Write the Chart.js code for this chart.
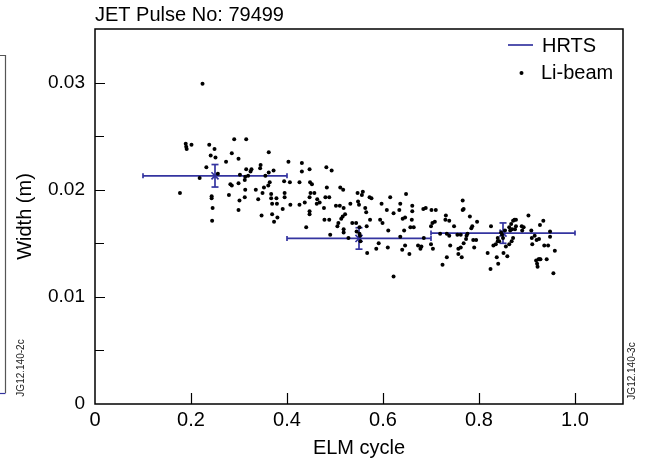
<!DOCTYPE html>
<html>
<head>
<meta charset="utf-8">
<script src="https://cdn.jsdelivr.net/npm/chart.js@4.4.1/dist/chart.umd.min.js"></script>
<style>
    html, body { margin: 0; padding: 0; background: #fff; }
    #wrap { width: 645px; height: 464px; }
</style>
</head>
<body>
<div id="wrap"><canvas id="elm-chart" width="645" height="464"></canvas></div>
<script>
// Li-beam widths
const liBeamX = [
    0.224, 0.189, 0.190, 0.191, 0.201, 0.238, 0.249, 0.241, 0.251, 0.290,
    0.315, 0.285, 0.299, 0.273, 0.232, 0.218, 0.177, 0.256, 0.243, 0.243,
    0.245, 0.244, 0.279, 0.282, 0.285, 0.299, 0.302, 0.312, 0.313, 0.315,
    0.326, 0.324, 0.319, 0.313, 0.312, 0.301, 0.299, 0.335, 0.340, 0.345,
    0.344, 0.352, 0.349, 0.355, 0.362, 0.362, 0.372, 0.364, 0.361, 0.367,
    0.367, 0.369, 0.378, 0.379, 0.347, 0.369, 0.380, 0.373, 0.391, 0.395,
    0.395, 0.394, 0.403, 0.406, 0.407, 0.431, 0.431, 0.447, 0.426, 0.426,
    0.437, 0.448, 0.452, 0.449, 0.457, 0.447, 0.463, 0.468, 0.462, 0.447,
    0.447, 0.440, 0.482, 0.493, 0.483, 0.480, 0.488, 0.477, 0.478, 0.488,
    0.490, 0.502, 0.510, 0.511, 0.517, 0.518, 0.532, 0.521, 0.516, 0.513,
    0.507, 0.505, 0.518, 0.518, 0.528, 0.536, 0.544, 0.547, 0.558, 0.556,
    0.548, 0.550, 0.563, 0.572, 0.576, 0.565, 0.573, 0.566, 0.551, 0.545,
    0.551, 0.553, 0.567, 0.586, 0.591, 0.597, 0.599, 0.594, 0.608, 0.615,
    0.622, 0.611, 0.610, 0.622, 0.636, 0.634, 0.648, 0.641, 0.646, 0.636,
    0.644, 0.640, 0.646, 0.655, 0.661, 0.661, 0.660, 0.657, 0.664, 0.673,
    0.678, 0.680, 0.685, 0.684, 0.689, 0.701, 0.710, 0.700, 0.704, 0.703,
    0.708, 0.700, 0.719, 0.724, 0.733, 0.731, 0.730, 0.738, 0.748, 0.740,
    0.733, 0.738, 0.755, 0.762, 0.757, 0.762, 0.757, 0.764, 0.766, 0.768,
    0.766, 0.773, 0.774, 0.768, 0.784, 0.786, 0.781, 0.776, 0.788, 0.794,
    0.790, 0.796, 0.818, 0.824, 0.825, 0.830, 0.835, 0.837, 0.840, 0.839,
    0.842, 0.839, 0.848, 0.850, 0.851, 0.859, 0.863, 0.856, 0.863, 0.867,
    0.871, 0.874, 0.877, 0.865, 0.869, 0.875, 0.877, 0.871, 0.868, 0.889,
    0.893, 0.890, 0.903, 0.909, 0.910, 0.916, 0.911, 0.919, 0.921, 0.922,
    0.924, 0.926, 0.928, 0.920, 0.925, 0.927, 0.934, 0.936, 0.944, 0.941,
    0.948, 0.948, 0.958, 0.955, 0.854, 0.846, 0.552
];
const liBeamY = [
    0.0299, 0.0243, 0.0240, 0.0238, 0.0242, 0.0242, 0.0238, 0.0232, 0.0230, 0.0247,
    0.0247, 0.0234, 0.0229, 0.0226, 0.0221, 0.0211, 0.0197, 0.0215, 0.0194, 0.0192,
    0.0183, 0.0171, 0.0195, 0.0205, 0.0204, 0.0206, 0.0214, 0.0209, 0.0212, 0.0219,
    0.0219, 0.0217, 0.0213, 0.0200, 0.0193, 0.0190, 0.0181, 0.0200, 0.0191, 0.0223,
    0.0220, 0.0202, 0.0197, 0.0213, 0.0235, 0.0216, 0.0218, 0.0207, 0.0204, 0.0196,
    0.0192, 0.0187, 0.0192, 0.0187, 0.0176, 0.0177, 0.0174, 0.0170, 0.0182, 0.0197,
    0.0193, 0.0208, 0.0226, 0.0207, 0.0186, 0.0225, 0.0217, 0.0219, 0.0207, 0.0186,
    0.0188, 0.0207, 0.0205, 0.0197, 0.0197, 0.0193, 0.0191, 0.0188, 0.0187, 0.0180,
    0.0177, 0.0165, 0.0221, 0.0218, 0.0202, 0.0193, 0.0193, 0.0183, 0.0172, 0.0172,
    0.0158, 0.0185, 0.0185, 0.0202, 0.0200, 0.0183, 0.0187, 0.0177, 0.0175, 0.0173,
    0.0169, 0.0166, 0.0163, 0.0160, 0.0155, 0.0169, 0.0169, 0.0197, 0.0198, 0.0195,
    0.0189, 0.0186, 0.0183, 0.0193, 0.0192, 0.0179, 0.0172, 0.0166, 0.0165, 0.0161,
    0.0159, 0.0152, 0.0141, 0.0145, 0.0150, 0.0187, 0.0169, 0.0172, 0.0181, 0.0193,
    0.0178, 0.0162, 0.0146, 0.0119, 0.0187, 0.0181, 0.0196, 0.0173, 0.0174, 0.0156,
    0.0162, 0.0144, 0.0148, 0.0140, 0.0185, 0.0180, 0.0172, 0.0165, 0.0165, 0.0148,
    0.0145, 0.0147, 0.0155, 0.0182, 0.0183, 0.0181, 0.0181, 0.0149, 0.0145, 0.0169,
    0.0170, 0.0166, 0.0159, 0.0130, 0.0137, 0.0176, 0.0172, 0.0171, 0.0166, 0.0148,
    0.0159, 0.0157, 0.0158, 0.0158, 0.0145, 0.0146, 0.0140, 0.0137, 0.0190, 0.0182,
    0.0181, 0.0154, 0.0157, 0.0150, 0.0164, 0.0166, 0.0175, 0.0159, 0.0153, 0.0153,
    0.0146, 0.0170, 0.0141, 0.0126, 0.0166, 0.0148, 0.0149, 0.0137, 0.0131, 0.0155,
    0.0152, 0.0152, 0.0158, 0.0155, 0.0141, 0.0138, 0.0149, 0.0147, 0.0165, 0.0168,
    0.0171, 0.0172, 0.0172, 0.0162, 0.0163, 0.0163, 0.0166, 0.0155, 0.0152, 0.0166,
    0.0165, 0.0162, 0.0176, 0.0162, 0.0155, 0.0157, 0.0149, 0.0134, 0.0131, 0.0128,
    0.0135, 0.0135, 0.0135, 0.0153, 0.0154, 0.0167, 0.0171, 0.0148, 0.0148, 0.0135,
    0.0161, 0.0156, 0.0143, 0.0122, 0.0162, 0.0160, 0.0157
];

// HRTS averages over ELM-cycle bins
const hrtsX = [0.25, 0.55, 0.85];
const hrtsY = [0.0213, 0.01545, 0.01595];
const hrtsBinLo = [0.1, 0.4, 0.7];
const hrtsBinHi = [0.4, 0.7, 1.0];
const hrtsErr = [0.00105, 0.001, 0.00095];

const xTickValues = [0, 0.2, 0.4, 0.6, 0.8, 1.0];
const xTickLabels = ['0', '0.2', '0.4', '0.6', '0.8', '1.0'];
const yTickValues = [0, 0.01, 0.02, 0.03];
const yTickLabels = ['0', '0.01', '0.02', '0.03'];
const yMinorValues = [0.005, 0.015, 0.025];

const hrtsColor = '#3434a0';
const fontFamily = 'Helvetica, Arial, "Liberation Sans", sans-serif';

const liBeamPoints = liBeamX.map((x, i) => ({ x: x, y: liBeamY[i] }));

const datasets = [
    {
        label: 'Li-beam',
        data: liBeamPoints,
        showLine: false,
        pointRadius: 2,
        pointBackgroundColor: '#000',
        pointBorderWidth: 0,
    },
    {
        label: 'HRTS',
        data: hrtsX.map((x, i) => ({ x: x, y: hrtsY[i] })),
        showLine: false,
        pointStyle: 'crossRot',
        pointRadius: 5,
        pointBorderColor: hrtsColor,
        pointBorderWidth: 1.7,
    },
];

hrtsX.forEach((x, i) => {
    // horizontal bar: bin width
    datasets.push({
        label: 'bin' + i,
        data: [{ x: hrtsBinLo[i], y: hrtsY[i] }, { x: hrtsBinHi[i], y: hrtsY[i] }],
        showLine: true,
        borderColor: hrtsColor,
        borderWidth: 1.7,
        pointStyle: 'line',
        rotation: 90,
        pointRadius: 2.5,
        pointBorderColor: hrtsColor,
        pointBorderWidth: 1.7,
    });
    // vertical bar: error
    datasets.push({
        label: 'err' + i,
        data: [{ x: x, y: hrtsY[i] - hrtsErr[i] }, { x: x, y: hrtsY[i] + hrtsErr[i] }],
        showLine: true,
        borderColor: hrtsColor,
        borderWidth: 1.7,
        pointStyle: 'line',
        rotation: 0,
        pointRadius: 3.5,
        pointBorderColor: hrtsColor,
        pointBorderWidth: 1.7,
    });
});

const framePlugin = {
    id: 'frame',
    afterDraw(chart) {
        const { ctx, chartArea: a, scales } = chart;
        const xs = scales.x, ys = scales.y;
        ctx.save();

        // plot box
        ctx.strokeStyle = '#000';
        ctx.lineWidth = 1.5;
        ctx.strokeRect(a.left, a.top, a.right - a.left, a.bottom - a.top);

        // inward ticks
        ctx.lineWidth = 1.2;
        ctx.beginPath();
        xTickValues.slice(1).forEach(v => {
            const px = Math.round(xs.getPixelForValue(v)) + 0.5;
            ctx.moveTo(px, a.bottom);
            ctx.lineTo(px, a.bottom - 11);
        });
        yTickValues.slice(1).forEach(v => {
            const py = Math.round(ys.getPixelForValue(v)) + 0.5;
            ctx.moveTo(a.left, py);
            ctx.lineTo(a.left + 10, py);
        });
        yMinorValues.forEach(v => {
            const py = Math.round(ys.getPixelForValue(v)) + 0.5;
            ctx.moveTo(a.left, py);
            ctx.lineTo(a.left + 9, py);
        });
        ctx.stroke();

        // legend
        ctx.font = '20px ' + fontFamily;
        ctx.textBaseline = 'middle';
        ctx.textAlign = 'left';
        ctx.fillStyle = '#000';
        ctx.strokeStyle = hrtsColor;
        ctx.lineWidth = 1.7;
        ctx.beginPath();
        ctx.moveTo(508, 45);
        ctx.lineTo(533, 45);
        ctx.stroke();
        ctx.fillText('HRTS', 542, 46);
        ctx.beginPath();
        ctx.arc(521.5, 73, 2, 0, Math.PI * 2);
        ctx.fill();
        ctx.fillText('Li-beam', 541, 73);

        // figure ids
        ctx.font = '10px ' + fontFamily;
        ctx.fillStyle = '#222';
        [[21, 368, 'JG12.140-2c'], [632, 371, 'JG12.140-3c']].forEach(([x, y, t]) => {
            ctx.save();
            ctx.translate(x, y);
            ctx.rotate(-Math.PI / 2);
            ctx.textAlign = 'center';
            ctx.fillText(t, 0, 0);
            ctx.restore();
        });

        // edge of the neighbouring panel
        ctx.strokeStyle = '#555';
        ctx.lineWidth = 1.2;
        ctx.beginPath();
        ctx.moveTo(0, 55.5);
        ctx.lineTo(5.5, 55.5);
        ctx.lineTo(5.5, 393);
        ctx.stroke();
        ctx.strokeStyle = hrtsColor;
        ctx.beginPath();
        ctx.moveTo(0, 393.5);
        ctx.lineTo(5.5, 393.5);
        ctx.stroke();

        ctx.restore();
    }
};

const canvas = document.getElementById('elm-chart');
const chart = new Chart(canvas.getContext('2d'), {
    type: 'scatter',
    data: { datasets: datasets },
    options: {
        responsive: false,
        animation: false,
        devicePixelRatio: 1,
        layout: { padding: { left: 0, right: 22, top: 0, bottom: 0 } },
        plugins: {
            legend: { display: false },
            tooltip: { enabled: false },
            title: {
                display: true,
                text: 'JET Pulse No: 79499',
                align: 'start',
                fullSize: false,
                color: '#000',
                font: { family: fontFamily, size: 20, weight: 'normal' },
                padding: { top: 3, bottom: 2 },
            },
        },
        scales: {
            x: {
                type: 'linear',
                min: 0,
                max: 1.1,
                grid: { display: false, drawTicks: false },
                border: { display: false },
                afterBuildTicks: scale => {
                    scale.ticks = xTickValues.map(v => ({ value: v }));
                },
                afterFit: scale => { scale.height = 60; },
                ticks: {
                    color: '#000',
                    padding: 4,
                    maxRotation: 0,
                    font: { family: fontFamily, size: 20 },
                    callback: (v) => {
                        const i = xTickValues.indexOf(v);
                        return i >= 0 ? xTickLabels[i] : '';
                    },
                },
                title: {
                    display: true,
                    text: 'ELM cycle',
                    color: '#000',
                    font: { family: fontFamily, size: 20 },
                    padding: { top: 0, bottom: 4 },
                },
            },
            y: {
                type: 'linear',
                min: 0,
                max: 0.035,
                grid: { display: false, drawTicks: false },
                border: { display: false },
                afterBuildTicks: scale => {
                    scale.ticks = yTickValues.map(v => ({ value: v }));
                },
                afterFit: scale => { scale.width = 95; },
                ticks: {
                    color: '#000',
                    padding: 10,
                    font: { family: fontFamily, size: 19 },
                    callback: (v) => {
                        const i = yTickValues.indexOf(v);
                        return i >= 0 ? yTickLabels[i] : '';
                    },
                },
                title: {
                    display: true,
                    text: 'Width (m)',
                    color: '#000',
                    font: { family: fontFamily, size: 20 },
                    padding: { top: 13, bottom: 0 },
                },
            },
        },
    },
    plugins: [framePlugin],
});
</script>
</body>
</html>
